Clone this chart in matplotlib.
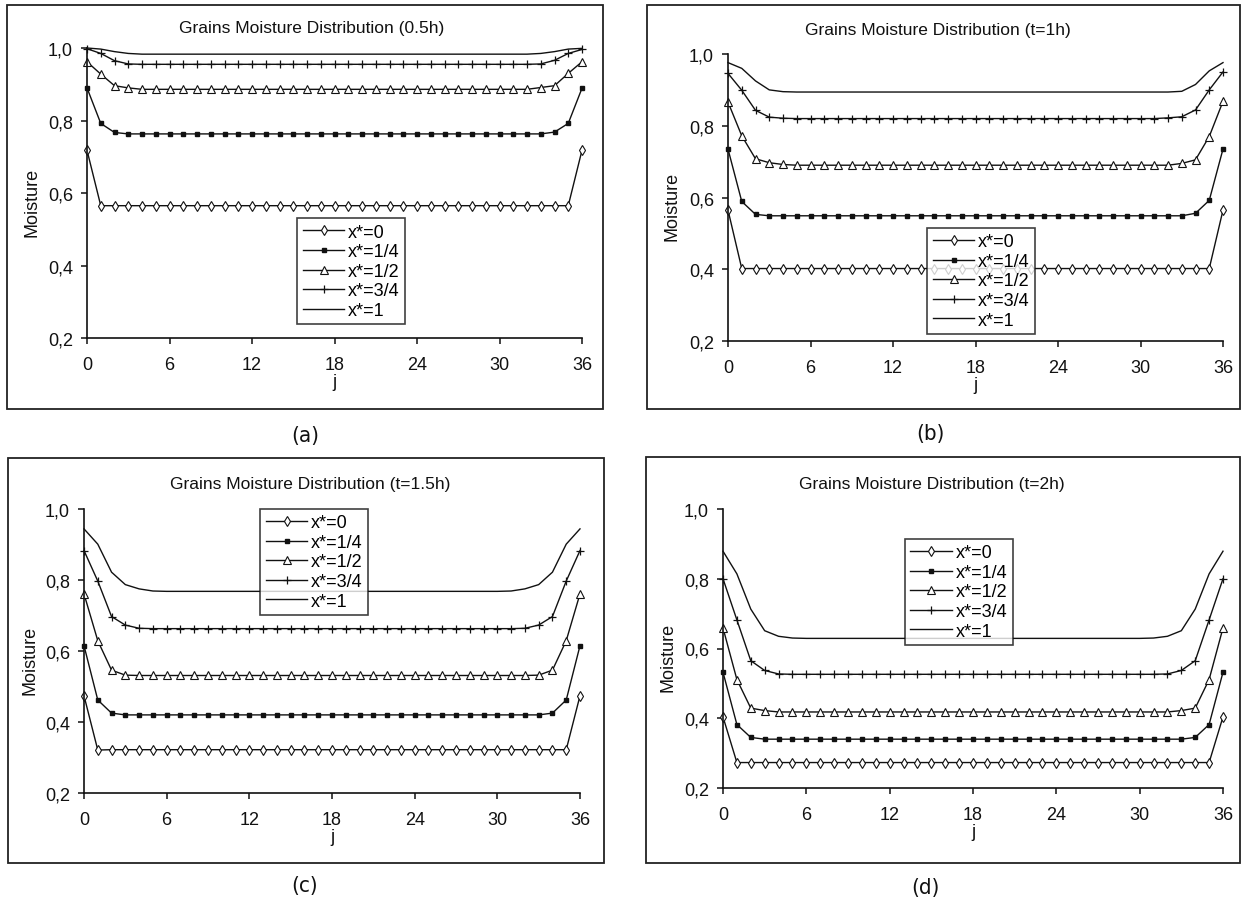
import matplotlib
matplotlib.use("Agg")
import matplotlib.pyplot as plt
from matplotlib import font_manager
from matplotlib.patches import Rectangle
from matplotlib.ticker import FuncFormatter

# x position along the grain bed
j = list(range(37))
labels = ["x*=0", "x*=1/4", "x*=1/2", "x*=3/4", "x*=1"]

# each series: values at the left edge, plateau value, values at the right edge
a_series = [
    ([0.718, 0.565], 0.565, [0.565, 0.718]),
    ([0.890, 0.792, 0.767], 0.763, [0.768, 0.792, 0.889]),
    ([0.962, 0.928, 0.896, 0.890], 0.886, [0.891, 0.896, 0.930, 0.962]),
    ([0.998, 0.985, 0.965, 0.956], 0.955, [0.956, 0.966, 0.985, 0.996]),
    ([1.000, 0.997, 0.990, 0.985], 0.983, [0.985, 0.990, 0.997, 0.999]),
]
b_series = [
    ([0.565, 0.402], 0.402, [0.402, 0.565]),
    ([0.735, 0.589, 0.553], 0.549, [0.556, 0.592, 0.735]),
    ([0.866, 0.772, 0.708, 0.697, 0.692], 0.690, [0.695, 0.705, 0.770, 0.868]),
    ([0.946, 0.899, 0.843, 0.824, 0.821], 0.820, [0.822, 0.825, 0.844, 0.900, 0.950]),
    ([0.976, 0.960, 0.925, 0.900, 0.895], 0.894, [0.896, 0.915, 0.953, 0.976]),
]
c_series = [
    ([0.474, 0.321], 0.322, [0.322, 0.474]),
    ([0.615, 0.462, 0.425], 0.420, [0.425, 0.462, 0.615]),
    ([0.761, 0.629, 0.546, 0.532], 0.531, [0.532, 0.546, 0.629, 0.761]),
    ([0.883, 0.797, 0.697, 0.673, 0.664], 0.663, [0.664, 0.673, 0.697, 0.797, 0.883]),
    ([0.944, 0.901, 0.822, 0.787, 0.775, 0.769], 0.768, [0.769, 0.775, 0.787, 0.822, 0.901, 0.944]),
]
d_series = [
    ([0.404, 0.273], 0.273, [0.273, 0.404]),
    ([0.532, 0.382, 0.345], 0.340, [0.345, 0.382, 0.532]),
    ([0.659, 0.511, 0.429, 0.422], 0.418, [0.422, 0.429, 0.511, 0.659]),
    ([0.800, 0.682, 0.565, 0.537, 0.527], 0.526, [0.527, 0.537, 0.565, 0.682, 0.800]),
    ([0.879, 0.814, 0.713, 0.651, 0.635, 0.630], 0.629, [0.630, 0.635, 0.651, 0.713, 0.814, 0.879]),
]
titles = ["Grains Moisture Distribution (0.5h)", "Grains Moisture Distribution (t=1h)",
          "Grains Moisture Distribution (t=1.5h)", "Grains Moisture Distribution (t=2h)"]
tags = ["(a)", "(b)", "(c)", "(d)"]


def profile(left, flat, right):
    return left + [flat] * (len(j) - len(left) - len(right)) + right


# a narrow face for the (a)..(d) tags, if one is installed
tag_font = font_manager.FontProperties(family="DejaVu Sans", size=15)
for f in font_manager.fontManager.ttflist:
    fn = f.fname.lower()
    if ("narrow" in fn or "condensed" in fn) and "bold" not in fn and "oblique" not in fn \
            and "italic" not in fn:
        tag_font = font_manager.FontProperties(fname=f.fname, size=16)
        break

plt.rcParams["font.family"] = ["Liberation Sans", "DejaVu Sans"]

W, H = 1242, 903
fig = plt.figure(figsize=(W / 100, H / 100), dpi=100)
ink = "#111111"

styles = [
    dict(marker="d", ms=5, mfc="white", mec=ink, mew=0.8),
    dict(marker="s", ms=3.2, mfc=ink, mec=ink),
    dict(marker="^", ms=5.5, mfc="white", mec=ink, mew=0.8),
    dict(marker="+", ms=6, mec=ink, mew=0.9),
    dict(marker=None),
]

# panel layout in pixels: axes (x0, x1, ytop, ybot), frame (x0, y0, x1, y1),
# title (x, y), ylabel x, tag (x, y), legend upper-left in data coords
panels = [
    dict(ax=(87, 582, 49, 339), frame=(7, 6, 603, 410), title=(312, 29), ylab=32,
         tag=(305, 436), leg=(15.3, 0.53), data=a_series),
    dict(ax=(728, 1223, 55, 342), frame=(647, 6, 1240, 410), title=(938, 31), ylab=672,
         tag=(930, 434), leg=(14.5, 0.515), data=b_series),
    dict(ax=(84, 580, 510, 794), frame=(8, 459, 604, 864), title=(310, 485), ylab=30,
         tag=(305, 886), leg=(12.8, 1.0), data=c_series),
    dict(ax=(723, 1223, 510, 789), frame=(646, 458, 1240, 864), title=(932, 485), ylab=668,
         tag=(925, 888), leg=(13.1, 0.914), data=d_series),
]

for k, p in enumerate(panels):
    x0, x1, yt, yb = p["ax"]
    ax = fig.add_axes([x0 / W, 1 - yb / H, (x1 - x0) / W, (yb - yt) / H])
    for ser, lab, st in zip(p["data"], labels, styles):
        ax.plot(j, profile(*ser), color=ink, lw=1.0, label=lab, clip_on=False, **st)
    ax.set_xlim(0, 36)
    ax.set_ylim(0.2, 1.0)
    ax.set_xticks(range(0, 37, 6))
    ax.set_yticks([0.2, 0.4, 0.6, 0.8, 1.0])
    ax.yaxis.set_major_formatter(FuncFormatter(lambda v, pos: f"{v:.1f}".replace(".", ",")))
    for s in ["top", "right"]:
        ax.spines[s].set_visible(False)
    for s in ["left", "bottom"]:
        ax.spines[s].set_linewidth(1.2)
        ax.spines[s].set_color(ink)
    ax.tick_params(axis="both", direction="out", length=4, width=1.1, colors=ink, labelsize=13)
    ax.tick_params(axis="x", pad=9)
    ax.tick_params(axis="y", pad=6)
    ax.set_xlabel("j", fontsize=13, color=ink, labelpad=0)
    fig.text(p["ylab"] / W, 1 - ((yt + yb) / 2 + 8) / H, "Moisture", rotation=90,
             ha="center", va="center", fontsize=13, color=ink)
    fig.text(p["title"][0] / W, 1 - p["title"][1] / H, titles[k], ha="center", va="center",
             fontsize=12.5, color=ink)
    lx, ly = p["leg"]
    leg = ax.legend(loc="upper left", bbox_to_anchor=(lx, ly), bbox_transform=ax.transData,
                    fontsize=13, frameon=True, fancybox=False, borderpad=0.3,
                    handlelength=2.3, handletextpad=0.2, labelspacing=0.14, borderaxespad=0)
    leg.get_frame().set_edgecolor(ink)
    leg.get_frame().set_linewidth(1.2)
    fx0, fy0, fx1, fy1 = p["frame"]
    fig.patches.append(Rectangle((fx0 / W, 1 - fy1 / H), (fx1 - fx0) / W, (fy1 - fy0) / H,
                                 transform=fig.transFigure, fill=False, ec="#222222", lw=1.3))
    fig.text(p["tag"][0] / W, 1 - p["tag"][1] / H, tags[k], ha="center", va="center",
             fontproperties=tag_font, color=ink)

fig.savefig("out.png", dpi=100)
